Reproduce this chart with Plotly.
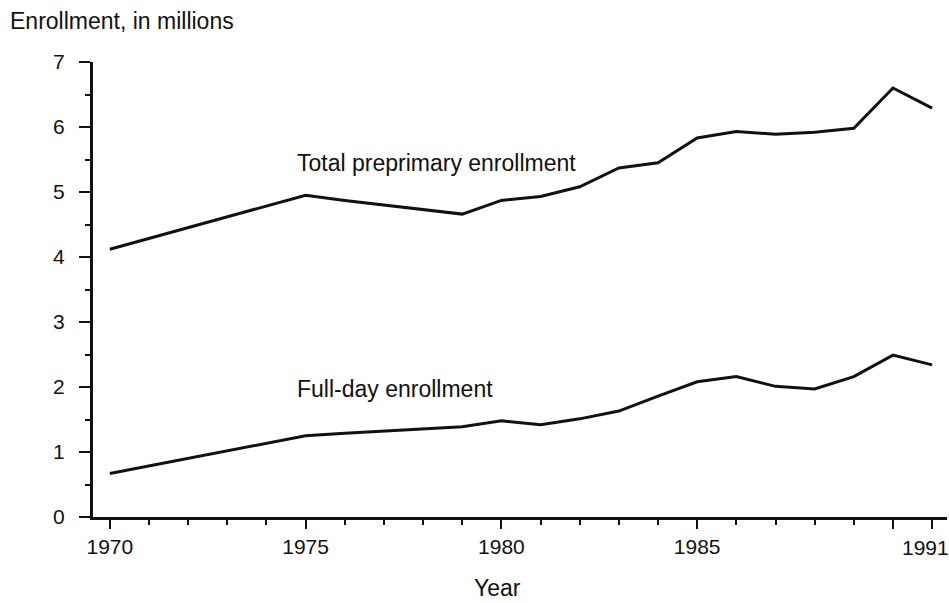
import plotly.graph_objects as go

years = [1970, 1975, 1976, 1977, 1978, 1979, 1980, 1981, 1982, 1983, 1984,
         1985, 1986, 1987, 1988, 1989, 1990, 1991]
total_enrollment = [4.12, 4.95, 4.87, 4.80, 4.72, 4.66, 4.87, 4.93, 5.08, 5.37, 5.45,
                    5.83, 5.93, 5.89, 5.92, 5.98, 6.60, 6.29]
fullday_enrollment = [0.67, 1.25, 1.29, 1.32, 1.35, 1.39, 1.48, 1.42, 1.51, 1.63, 1.86,
                      2.08, 2.16, 2.01, 1.97, 2.16, 2.49, 2.34]

x_tickvals = [1970, 1975, 1980, 1985, 1990, 1991]
x_ticktext = ["1970", "1975", "1980", "1985", "", ""]
last_year_label = "1991"
y_tickvals = [0, 1, 2, 3, 4, 5, 6, 7]

FONT = "Liberation Sans, Arial, Helvetica, sans-serif"
INK = "#111111"
TICK_SIZE = 21
LABEL_SIZE = 23

fig = go.Figure()
fig.add_trace(go.Scatter(x=years, y=total_enrollment, mode="lines",
                         line=dict(color=INK, width=3), name="Total preprimary enrollment",
                         showlegend=False))
fig.add_trace(go.Scatter(x=years, y=fullday_enrollment, mode="lines",
                         line=dict(color=INK, width=3), name="Full-day enrollment",
                         showlegend=False))

fig.add_annotation(x=1974.72, y=5.45, xref="x", yref="y", text="Total preprimary enrollment",
                   showarrow=False, xanchor="left", yanchor="middle",
                   font=dict(family=FONT, size=LABEL_SIZE, color=INK))
fig.add_annotation(x=1974.72, y=1.97, xref="x", yref="y", text="Full-day enrollment",
                   showarrow=False, xanchor="left", yanchor="middle",
                   font=dict(family=FONT, size=LABEL_SIZE, color=INK))
fig.add_annotation(x=-0.099, y=1.09, xref="paper", yref="paper", text="Enrollment, in millions",
                   showarrow=False, xanchor="left", yanchor="middle",
                   font=dict(family=FONT, size=LABEL_SIZE, color=INK))
fig.add_annotation(x=0.474, y=-0.157, xref="paper", yref="paper", text="Year",
                   showarrow=False, xanchor="center", yanchor="middle",
                   font=dict(family=FONT, size=LABEL_SIZE, color=INK))
fig.add_annotation(x=years[-1], y=0, xref="x", yref="y", text=last_year_label,
                   showarrow=False, xanchor="center", yanchor="top", xshift=-7, yshift=-17,
                   font=dict(family=FONT, size=TICK_SIZE, color=INK))

fig.update_layout(
    width=949, height=603,
    margin=dict(l=93, r=2, t=62, b=86),
    paper_bgcolor="white", plot_bgcolor="white",
    font=dict(family=FONT, size=TICK_SIZE, color=INK),
    showlegend=False,
)
fig.update_xaxes(
    range=[1969.57, 1991.38], tickmode="array", tickvals=x_tickvals, ticktext=x_ticktext,
    showgrid=False, zeroline=False, showline=True, linecolor=INK, linewidth=3,
    ticks="outside", ticklen=9, tickwidth=2, tickcolor=INK,
    minor=dict(dtick=1, tick0=1970, ticks="outside", ticklen=5, tickwidth=2, tickcolor=INK,
               showgrid=False),
    tickfont=dict(family=FONT, size=TICK_SIZE, color=INK),
)
fig.update_yaxes(
    range=[0, 7], tickmode="array", tickvals=y_tickvals,
    showgrid=False, zeroline=False, showline=True, linecolor=INK, linewidth=3,
    ticks="outside", ticklen=11, tickwidth=2, tickcolor=INK, ticklabelstandoff=10,
    minor=dict(dtick=0.5, tick0=0, ticks="outside", ticklen=5, tickwidth=2, tickcolor=INK,
               showgrid=False),
    tickfont=dict(family=FONT, size=TICK_SIZE, color=INK),
)

fig.write_html("out.html", config={"displayModeBar": False},
               post_script="document.body.style.margin='0';document.body.style.padding='0';"
                           "document.documentElement.style.overflow='hidden';")
